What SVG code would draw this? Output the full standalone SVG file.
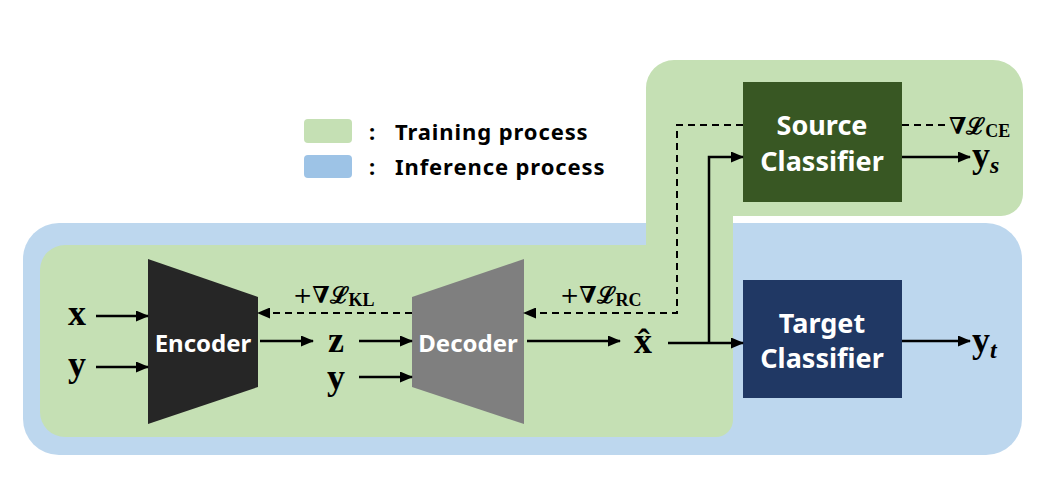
<svg xmlns="http://www.w3.org/2000/svg" width="1051" height="485" viewBox="0 0 1051 485">
<defs>
<style>
.lbl{font-family:"Noto Sans","Liberation Sans",sans-serif;font-weight:bold;fill:#fff;text-anchor:middle}
.leg{font-family:"Noto Sans","Liberation Sans",sans-serif;font-weight:bold;font-size:22px;letter-spacing:0.9px;fill:#000}
.var{font-family:"Liberation Serif","DejaVu Serif",serif;font-weight:bold;font-size:36px;fill:#000;text-anchor:middle}
.math{font-family:"DejaVu Serif","Liberation Serif",serif;font-weight:bold;font-size:23px;fill:#000}
.sub{font-family:"Liberation Serif","DejaVu Serif",serif;font-weight:bold;font-size:18px}
.it{font-style:italic}
.solid{stroke:#000;stroke-width:2.5;fill:none;marker-end:url(#ah)}
.dash{stroke:#000;stroke-width:2;fill:none;stroke-dasharray:7 5}
.dashA{stroke:#000;stroke-width:2;fill:none;stroke-dasharray:7 5;marker-end:url(#ah)}
</style>
<marker id="ah" markerUnits="userSpaceOnUse" markerWidth="13" markerHeight="11" refX="12" refY="5.5" orient="auto"><path d="M0,0 L13,5.5 L0,11 z" fill="#000"/></marker>
</defs>
<g id="regions">
<rect x="23" y="223" width="999" height="232" rx="36" fill="#BDD7EE"/>
<path d="M40,270 A25,25 0 0 1 65,245 L646,245 L646,88 A28,28 0 0 1 674,60 L993,60 A30,30 0 0 1 1023,90 L1023,194 A22,22 0 0 1 1001,216 L733,216 L733,420 A17,17 0 0 1 716,437 L65,437 A25,25 0 0 1 40,412 Z" fill="#C5E0B4"/>
</g>
<g id="legend">
<rect x="304" y="119" width="48" height="24" rx="4" fill="#C5E0B4"/>
<rect x="304" y="155" width="48" height="23" rx="4" fill="#9DC3E6"/>
<text class="leg" x="369" y="140">:</text>
<text class="leg" x="395" y="140">Training process</text>
<text class="leg" x="369" y="175">:</text>
<text class="leg" x="395" y="175">Inference process</text>
</g>
<g id="encoder">
<polygon points="148,259 258,297 258,387 148,424" fill="#262626"/>
<text class="lbl" x="203" y="352" font-size="24">Encoder</text>
</g>
<g id="decoder">
<polygon points="412,297 524,259 524,424 412,387" fill="#7F7F7F"/>
<text class="lbl" x="468" y="352" font-size="24">Decoder</text>
</g>
<g id="source-classifier">
<rect x="743" y="82" width="159" height="120" fill="#385723"/>
<text class="lbl" x="822" y="135" font-size="27">Source</text>
<text class="lbl" x="822" y="171" font-size="27">Classifier</text>
</g>
<g id="target-classifier">
<rect x="743" y="280" width="159" height="118" fill="#203864"/>
<text class="lbl" x="822" y="333" font-size="27">Target</text>
<text class="lbl" x="822" y="368" font-size="27">Classifier</text>
</g>
<g id="variables">
<text class="var" x="77" y="325">x</text>
<text class="var" x="77" y="376">y</text>
<text class="var" x="336" y="352">z</text>
<text class="var" x="336" y="389">y</text>
<text class="var" x="643" y="353">x̂</text>
<text class="var" x="972" y="167" style="text-anchor:start" font-size="34">y<tspan class="it" font-size="24" dy="6">s</tspan></text>
<text class="var" x="972" y="352" style="text-anchor:start" font-size="34">y<tspan class="it" font-size="24" dy="6">t</tspan></text>
</g>
<g id="loss-labels">
<text class="math" x="293" y="303"><tspan font-weight="normal">+</tspan>∇ℒ<tspan class="sub" dy="3">KL</tspan></text>
<text class="math" x="560" y="303"><tspan font-weight="normal">+</tspan>∇ℒ<tspan class="sub" dy="3">RC</tspan></text>
<text class="math" x="949" y="134">∇ℒ<tspan class="sub" dy="3">CE</tspan></text>
</g>
<g id="connectors">
<line class="solid" x1="96" y1="316" x2="148" y2="316"/>
<line class="solid" x1="96" y1="367" x2="148" y2="367"/>
<line class="solid" x1="260" y1="341" x2="313" y2="341"/>
<line class="solid" x1="359" y1="341" x2="412" y2="341"/>
<line class="solid" x1="359" y1="377" x2="412" y2="377"/>
<line class="solid" x1="527" y1="341" x2="620" y2="341"/>
<line class="solid" x1="668" y1="343" x2="743" y2="343"/>
<polyline class="solid" points="709,343 709,157 743,157"/>
<line class="solid" x1="902" y1="157" x2="970" y2="157"/>
<line class="solid" x1="902" y1="341" x2="970" y2="341"/>
<line class="dash" x1="902" y1="125" x2="946" y2="125"/>
<polyline class="dashA" points="743,125 677,125 677,313 524,313"/>
<line class="dashA" x1="412" y1="313" x2="258" y2="313"/>
</g>
</svg>
